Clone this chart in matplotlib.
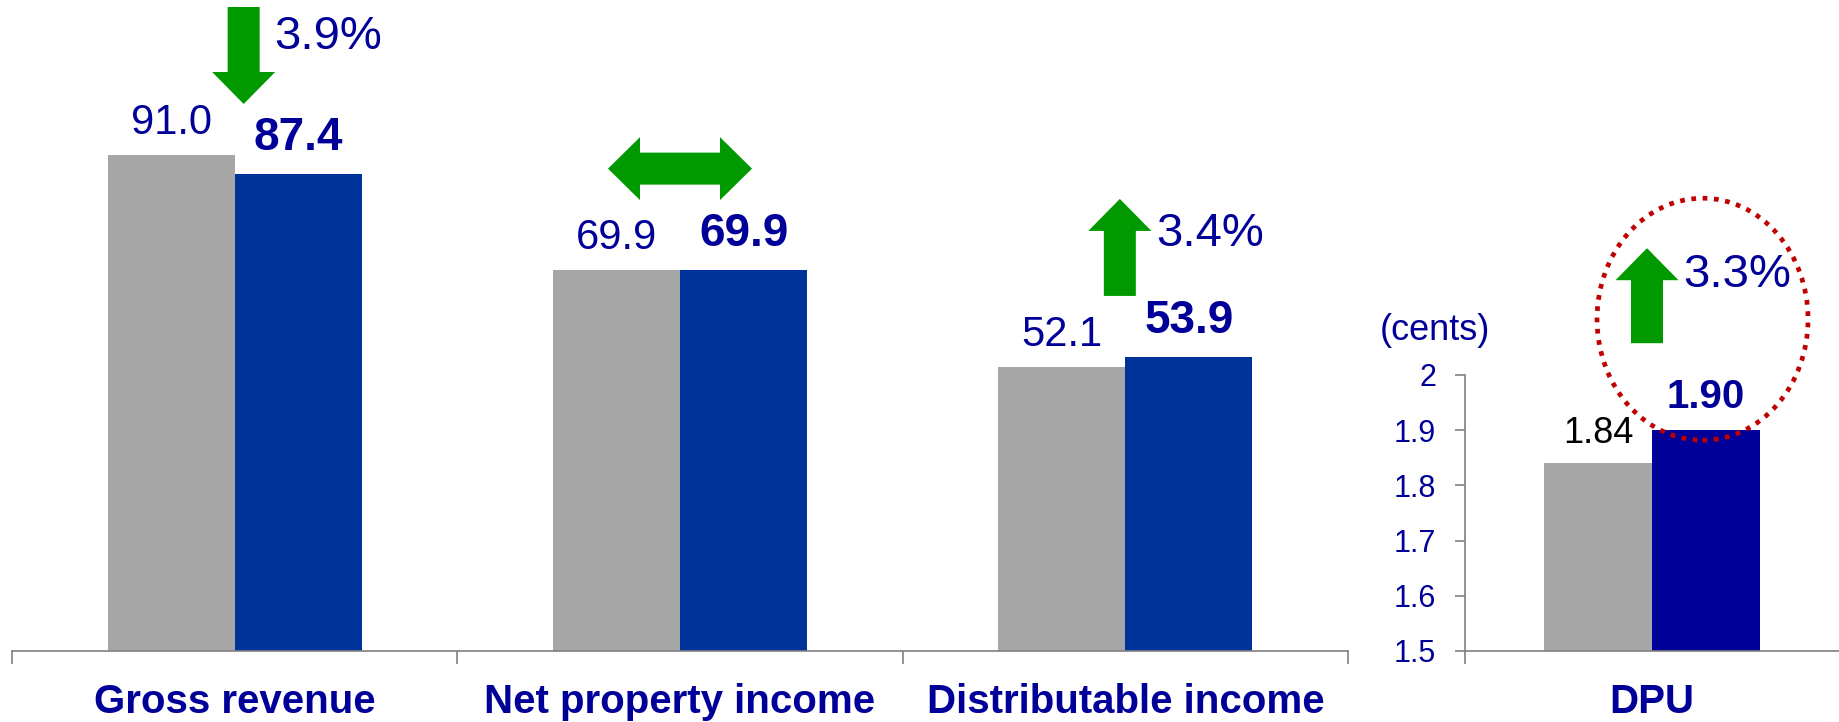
import numpy as np
import matplotlib.pyplot as plt
import matplotlib.transforms as mtransforms
from matplotlib.patches import Polygon, Ellipse

plt.rcParams['font.family'] = ['Liberation Sans', 'DejaVu Sans']

# data
categories = ['Gross revenue', 'Net property income', 'Distributable income']
prev_values = [91.0, 69.9, 52.1]
curr_values = [87.4, 69.9, 53.9]
changes = ['3.9%', '', '3.4%']
trends = ['down', 'flat', 'up']

dpu_category = 'DPU'
dpu_prev = 1.84
dpu_curr = 1.90
dpu_change = '3.3%'
dpu_ticks = [1.5, 1.6, 1.7, 1.8, 1.9, 2.0]
dpu_tick_labels = ['1.5', '1.6', '1.7', '1.8', '1.9', '2']

NAVY = '#000099'
GREY = '#a6a6a6'
BLUE = '#003399'
DPU_BLUE = '#000099'
GREEN = '#009900'
AXIS = '#808080'

W, H, DPI = 1839, 722, 100
fig = plt.figure(figsize=(W / DPI, H / DPI), dpi=DPI)


def pt(p):
    # pixels -> points
    return p * 72.0 / DPI


def up_arrow(length, shaft=32, head_w=63, head_l=32):
    s, h = shaft / 2, head_w / 2
    return [(0, 0), (h, -head_l), (s, -head_l), (s, -length),
            (-s, -length), (-s, -head_l), (-h, -head_l)]


def both_arrow(length, shaft=32, head_w=63, head_l=32):
    s, h, L = shaft / 2, head_w / 2, length / 2
    return [(-L, 0), (-L + head_l, h), (-L + head_l, s), (L - head_l, s),
            (L - head_l, h), (L, 0), (L - head_l, -h), (L - head_l, -s),
            (-L + head_l, -s), (-L + head_l, -h)]


def at(ax, xy, offset):
    x0, y0 = ax.transData.transform(xy)
    return mtransforms.Affine2D().translate(x0 + offset[0], y0 + offset[1])


# ---- left panel
ax = fig.add_axes([12 / W, 71 / H, 1336 / W, 651 / H])
ax.patch.set_visible(False)
x = np.arange(len(categories))
bw = 0.2854
off = 0.1427
ax.bar(x - off, prev_values, bw, color=GREY, zorder=2)
ax.bar(x + off, curr_values, bw, color=BLUE, zorder=2)
ax.set_xlim(-0.5, 2.5)
ax.set_ylim(0, 651 / 5.456)

for s in ['top', 'right', 'left']:
    ax.spines[s].set_visible(False)
ax.spines['bottom'].set_color(AXIS)
ax.spines['bottom'].set_linewidth(1.2)
ax.set_yticks([])
ax.set_xticks(np.arange(-0.5, 3, 1))
ax.set_xticklabels([])
ax.tick_params(axis='x', which='major', direction='out', length=pt(13),
               width=1.2, color=AXIS)
ax.set_xticks(x, minor=True)
ax.set_xticklabels(categories, minor=True, fontsize=29, fontweight='bold',
                   color=NAVY)
ax.tick_params(axis='x', which='minor', length=0, pad=pt(32))

for i in range(len(categories)):
    ax.annotate(f'{prev_values[i]:.1f}', (x[i] - off, prev_values[i]),
                xytext=(0, 21), textcoords='offset pixels', ha='center',
                va='baseline', fontsize=30, color=NAVY)
    ax.annotate(f'{curr_values[i]:.1f}', (x[i] + off, curr_values[i]),
                xytext=(0, 24), textcoords='offset pixels', ha='center',
                va='baseline', fontsize=33, fontweight='bold', color=NAVY)

    top = max(prev_values[i], curr_values[i])
    if trends[i] == 'down':
        shape = [(a, -b) for a, b in up_arrow(97)]
        ax.add_patch(Polygon(shape, closed=True, color=GREEN, lw=0,
                             transform=at(ax, (x[i], top), (9, 50.5)),
                             clip_on=False))
        ax.annotate(changes[i], (x[i], top), xytext=(40, 106),
                    textcoords='offset pixels', ha='left', va='baseline',
                    fontsize=34, color=NAVY)
    elif trends[i] == 'up':
        ax.add_patch(Polygon(up_arrow(97), closed=True, color=GREEN, lw=0,
                             transform=at(ax, (x[i], top), (-5.5, 158)),
                             clip_on=False))
        ax.annotate(changes[i], (x[i], top), xytext=(30.5, 111),
                    textcoords='offset pixels', ha='left', va='baseline',
                    fontsize=34, color=NAVY)
    else:
        ax.add_patch(Polygon(both_arrow(144), closed=True, color=GREEN, lw=0,
                             transform=at(ax, (x[i], top), (0, 101)),
                             clip_on=False))

# ---- DPU panel
ax2 = fig.add_axes([1465 / W, 71 / H, 374 / W, 651 / H])
ax2.patch.set_visible(False)
ax2.bar([-0.1444], [dpu_prev], 0.2888, bottom=0, color=GREY, zorder=2)
ax2.bar([0.1444], [dpu_curr], 0.2888, bottom=0, color=DPU_BLUE, zorder=2)
ax2.set_xlim(-0.5, 0.5)
ax2.set_ylim(1.5, 1.5 + 651 / 552)

for s in ['top', 'right']:
    ax2.spines[s].set_visible(False)
for s in ['left', 'bottom']:
    ax2.spines[s].set_color(AXIS)
    ax2.spines[s].set_linewidth(1.2)
ax2.spines['left'].set_bounds(1.5, 2.0)
ax2.set_yticks(dpu_ticks)
ax2.set_yticklabels(dpu_tick_labels, fontsize=22, color=NAVY)
ax2.tick_params(axis='y', direction='out', length=pt(10), width=1.2,
                color=AXIS, pad=pt(19))
ax2.set_xticks([-0.5])
ax2.set_xticklabels([])
ax2.tick_params(axis='x', which='major', direction='out', length=pt(13),
                width=1.2, color=AXIS)
ax2.set_xticks([0], minor=True)
ax2.set_xticklabels([dpu_category], minor=True, fontsize=29,
                    fontweight='bold', color=NAVY)
ax2.tick_params(axis='x', which='minor', length=0, pad=pt(32))

ax2.annotate(f'{dpu_prev:.2f}', (-0.1444, dpu_prev), xytext=(0, 20),
             textcoords='offset pixels', ha='center', va='baseline',
             fontsize=26, color='black')
ax2.annotate(f'{dpu_curr:.2f}', (0.1444, dpu_curr), xytext=(0, 22),
             textcoords='offset pixels', ha='center', va='baseline',
             fontsize=29, fontweight='bold', color=NAVY)

ax2.add_patch(Polygon(up_arrow(95), closed=True, color=GREEN, lw=0,
                      transform=at(ax2, (0, dpu_curr), (-5, 182)),
                      clip_on=False))
ax2.annotate(dpu_change, (0, dpu_curr), xytext=(31, 143),
             textcoords='offset pixels', ha='left', va='baseline',
             fontsize=34, color=NAVY)
ax2.add_patch(Ellipse((0, 0), 211, 242, fill=False, edgecolor='#c00000',
                      lw=3.4, linestyle=(0, (1.0, 1.4)),
                      transform=at(ax2, (0.1444, dpu_curr), (-3.5, 111)),
                      clip_on=False, zorder=5))

ax2.annotate('(cents)', (0, 2.0), xycoords=('axes fraction', 'data'),
             xytext=(-30, 45), textcoords='offset pixels', ha='center',
             va='center', fontsize=26, color=NAVY)

fig.savefig('out.png', dpi=DPI)
